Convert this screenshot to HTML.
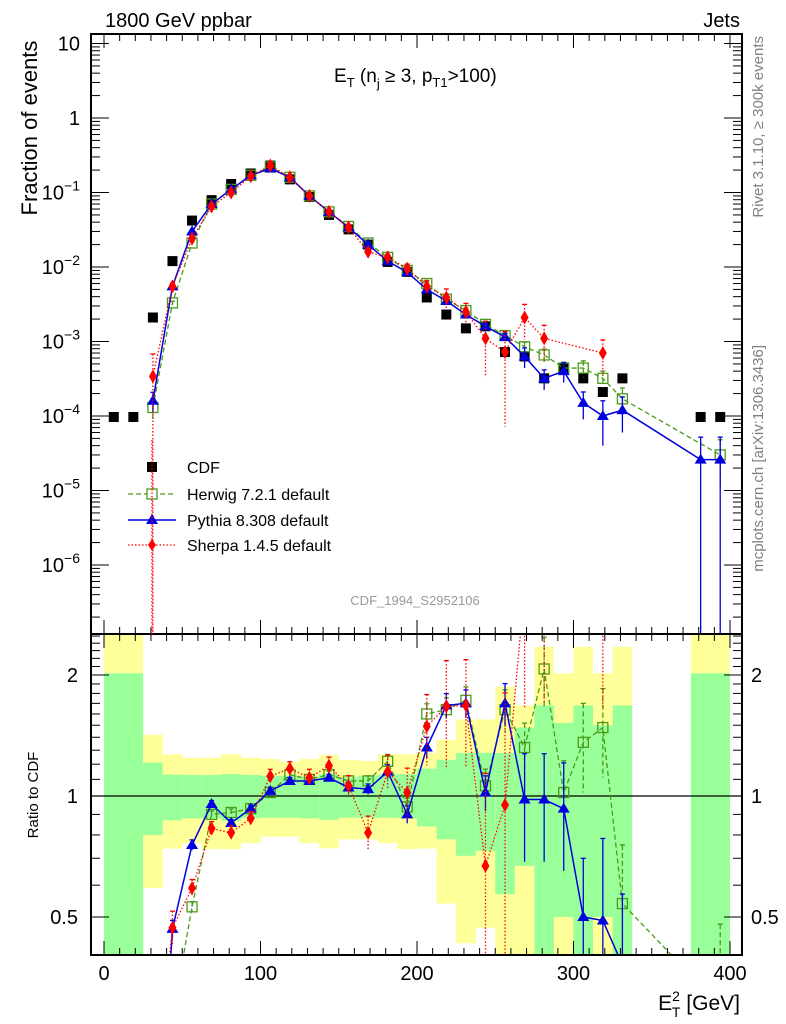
<!DOCTYPE html>
<html><head><meta charset="utf-8">
<style>
html,body{margin:0;padding:0;background:#fff;overflow:hidden;width:786px;height:1024px;}
svg{display:block;font-family:"Liberation Sans",Arial,sans-serif;}
</style></head>
<body>
<svg id="chart" width="786" height="1024" viewBox="0 0 786 1024" xmlns="http://www.w3.org/2000/svg">
<defs>
<clipPath id="mainClip"><rect x="91" y="34" width="651" height="600"/></clipPath>
<clipPath id="ratioClip"><rect x="91" y="634" width="651" height="321"/></clipPath>
</defs>
<g id="ratioBands" clip-path="url(#ratioClip)"></g>
<g id="mainMarks" clip-path="url(#mainClip)"></g>
<g id="ratioMarks" clip-path="url(#ratioClip)"></g>
<g id="axes"></g>

<text x="105" y="27" font-size="20">1800 GeV ppbar</text>
<text x="740" y="27" font-size="20" text-anchor="end">Jets</text>
<text x="334" y="82" font-size="19">E<tspan font-size="13" dy="5">T</tspan><tspan dy="-5"> (n</tspan><tspan font-size="13" dy="6">j</tspan><tspan dy="-6"> ≥ 3, p</tspan><tspan font-size="13" dy="5">T1</tspan><tspan dy="-5">&gt;100)</tspan></text>
<text transform="translate(37,128) rotate(-90)" font-size="22" text-anchor="middle">Fraction of events</text>
<text transform="translate(38,795) rotate(-90)" font-size="15" text-anchor="middle">Ratio to CDF</text>
<text transform="translate(763,36) rotate(-90)" font-size="15" fill="#808080" text-anchor="end">Rivet 3.1.10, ≥ 300k events</text>
<text transform="translate(763,345) rotate(-90)" font-size="15" fill="#808080" text-anchor="end">mcplots.cern.ch [arXiv:1306.3436]</text>
<text x="415" y="605" font-size="13" fill="#999" text-anchor="middle">CDF_1994_S2952106</text>
<text x="740" y="1010" font-size="21" text-anchor="end">E<tspan font-size="14" dy="-9">2</tspan><tspan font-size="14" dy="16" dx="-8">T</tspan><tspan dy="-7"> [GeV]</tspan></text>

<g id="legend">
<g>
<rect x="147" y="462" width="10" height="10" fill="#000"/>
<text x="187" y="473" font-size="16">CDF</text></g>
<g>
<line x1="128" y1="494" x2="176" y2="494" stroke="#4a9a1a" stroke-width="1.3" stroke-dasharray="5,3"/>
<rect x="147" y="489" width="10" height="10" fill="#fff" stroke="#4a9a1a" stroke-width="1.3"/>
<text x="187" y="500" font-size="16">Herwig 7.2.1 default</text></g>
<g>
<line x1="128" y1="520" x2="176" y2="520" stroke="#0000e0" stroke-width="1.5"/>
<polygon points="152,514 158,524 146,524" fill="#0000e0"/>
<text x="187" y="526" font-size="16">Pythia 8.308 default</text></g>
<g>
<line x1="128" y1="545" x2="176" y2="545" stroke="#ff0000" stroke-width="1.3" stroke-dasharray="1.5,2"/>
<line x1="152" y1="440" x2="152" y2="634" stroke="#ff0000" stroke-width="1.3" stroke-dasharray="1.5,2"/>
<polygon points="152,539 156,545 152,551 148,545" fill="#ff0000"/>
<text x="187" y="551" font-size="16">Sherpa 1.4.5 default</text></g>
</g>
</svg>
<script>
// ---- data (bin centres in GeV, width 12.5) ----
const binCenters = [6.25,18.75,31.25,43.75,56.25,68.75,81.25,93.75,106.25,118.75,131.25,143.75,156.25,168.75,181.25,193.75,206.25,218.75,231.25,243.75,256.25,268.75,281.25,293.75,306.25,318.75,331.25,343.75,356.25,368.75,381.25,393.75];
const cdfValues = [9.7e-5,9.7e-5,2.1e-3,1.2e-2,4.2e-2,0.079,0.13,0.18,0.23,0.15,0.087,0.05,0.032,0.02,0.0117,0.0086,0.0039,2.3e-3,1.5e-3,1.6e-3,7.2e-4,6.3e-4,3.2e-4,4.4e-4,3.2e-4,2.1e-4,3.2e-4,null,null,null,9.7e-5,9.7e-5];
const herwigValues = [null,null,1.3e-4,3.3e-3,2.1e-2,0.07,0.11,0.17,0.22,0.16,0.09,0.055,0.035,0.021,0.0135,0.009,0.006,3.7e-3,2.6e-3,1.7e-3,1.2e-3,8.5e-4,6.6e-4,4.4e-4,4.4e-4,3.2e-4,1.7e-4,null,null,null,null,3e-5];
const herwigErr = [0,0,0.3,0.05,0.03,0.02,0.02,0.02,0.02,0.02,0.02,0.02,0.03,0.03,0.04,0.05,0.06,0.07,0.08,0.1,0.12,0.15,0.2,0.2,0.25,0.25,0.4,0,0,0,0,0.6];
const pythiaValues = [null,null,1.6e-4,5.5e-3,0.03,0.07,0.11,0.17,0.21,0.16,0.09,0.055,0.034,0.02,0.012,0.0085,0.005,3.5e-3,2.3e-3,1.6e-3,1.15e-3,6.3e-4,3.2e-4,4e-4,1.5e-4,1e-4,1.2e-4,null,null,null,2.6e-5,2.6e-5];
const pythiaErr = [0,0,0.3,0.05,0.03,0.02,0.02,0.02,0.02,0.02,0.02,0.02,0.03,0.03,0.04,0.05,0.06,0.07,0.08,0.1,0.12,0.3,0.3,0.3,0.4,0.6,0.5,0,0,0,1,1];
const sherpaValues = [null,null,3.4e-4,5.5e-3,0.024,0.065,0.1,0.165,0.23,0.16,0.09,0.055,0.034,0.016,0.0135,0.0095,0.0055,3.9e-3,2.5e-3,1.1e-3,7.2e-4,2.1e-3,1.1e-3,null,null,7e-4,null,null,null,null,null,null];
const sherpaErr = [0,0,1,0.1,0.05,0.04,0.04,0.04,0.04,0.04,0.05,0.05,0.06,0.1,0.1,0.15,0.2,0.3,0.3,0.7,0.9,0.5,0.5,0,0,0.5,0,0,0,0,0,0];
// ratios to CDF
const herwigRatio = [null,null,0.06,0.28,0.53,0.9,0.91,0.93,1.02,1.13,1.1,1.13,1.09,1.09,1.22,0.94,1.6,1.64,1.73,1.06,1.64,1.32,2.07,1.02,1.36,1.48,0.54,null,null,null,null,0.3];
const pythiaRatio = [null,null,0.08,0.467,0.755,0.955,0.857,0.93,1.03,1.09,1.09,1.11,1.05,1.04,1.15,0.9,1.32,1.68,1.7,1.02,1.7,0.98,0.98,0.93,0.5,0.49,0.38,null,null,null,0.27,0.27];
const pythiaRatioErr = [0,0,0.3,0.05,0.03,0.02,0.02,0.02,0.02,0.02,0.02,0.02,0.03,0.03,0.04,0.05,0.06,0.07,0.08,0.1,0.12,0.3,0.3,0.3,0.4,0.6,0.5,0,0,0,0,0];
const sherpaRatio = [null,null,0.16,0.47,0.59,0.83,0.81,0.88,1.12,1.17,1.11,1.19,1.06,0.81,1.15,1.02,1.49,1.67,1.68,0.67,0.95,3.3,3.4,null,null,3.3,null,null,null,null,null,null];
// CDF uncertainty bands (ratio): green inner, yellow outer
const greenLo = [0.01,0.01,0.8,0.87,0.88,0.88,0.868,0.88,0.883,0.883,0.88,0.872,0.883,0.883,0.883,0.88,0.84,0.78,0.71,0.73,0.57,0.67,0.01,0.5,0.01,0.5,0.01,null,null,null,0.01,0.01];
const greenHi = [2.02,2.02,1.21,1.13,1.128,1.128,1.134,1.128,1.123,1.123,1.117,1.132,1.113,1.123,1.132,1.134,1.17,1.23,1.28,1.28,1.28,1.48,1.68,1.52,1.68,1.5,1.68,null,null,null,2.02,2.02];
const yellowLo = [0.01,0.01,0.59,0.74,0.763,0.738,0.738,0.763,0.792,0.792,0.763,0.741,0.78,0.78,0.763,0.738,0.74,0.54,0.43,0.47,0.01,0.01,0.01,0.01,0.01,0.01,0.01,null,null,null,0.01,0.01];
const yellowHi = [10,10,1.42,1.27,1.245,1.245,1.27,1.245,1.236,1.217,1.236,1.265,1.229,1.222,1.27,1.27,1.28,1.38,1.55,1.55,1.87,1.68,2.35,2.02,2.35,2.02,2.35,null,null,null,10,10];
const xTicks = [0,100,200,300,400];
const yDecades = [1,0,-1,-2,-3,-4,-5,-6];
const ratioTicks = [2,1,0.5];

// ---- axes functions ----
const X = v => 104 + v*1.565;
const Y = v => 118 - 74.5*Math.log10(v);
const R = v => 796 - 121*Math.log2(v);
const NS = 'http://www.w3.org/2000/svg';
function mk(tag, attrs, parent){const e=document.createElementNS(NS,tag);for(const k in attrs)e.setAttribute(k,attrs[k]);parent.appendChild(e);return e;}
const gB=document.getElementById('ratioBands'), gM=document.getElementById('mainMarks'), gR=document.getElementById('ratioMarks'), gA=document.getElementById('axes');

// bands
binCenters.forEach((c,i)=>{
  if(yellowHi[i]==null) return;
  const x0=X(c-6.25), w=X(c+6.25)-x0;
  let r=mk('rect',{x:x0,y:R(yellowHi[i]),width:w,height:Math.min(R(yellowLo[i]),960)-R(yellowHi[i]),fill:'#ffff99'},gB);
  
  
  r=mk('rect',{x:x0,y:R(greenHi[i]),width:w,height:Math.min(R(greenLo[i]),960)-R(greenHi[i]),fill:'#99ff99'},gB);
  
  
});
mk('line',{x1:91,x2:742,y1:R(1),y2:R(1),stroke:'#000','stroke-width':1.2},gR);

function marker(type,x,y,col,g){
  let e;
  if(type==='sq') e=mk('rect',{x:x-5,y:y-5,width:10,height:10,fill:'#000'},g);
  else if(type==='osq') e=mk('rect',{x:x-5,y:y-5,width:10,height:10,fill:'none',stroke:col,'stroke-width':1.3},g);
  else if(type==='tri') e=mk('polygon',{points:`${x},${y-6} ${x+6},${y+4} ${x-6},${y+4}`,fill:col},g);
  else e=mk('polygon',{points:`${x},${y-7} ${x+4},${y} ${x},${y+7} ${x-4},${y}`,fill:col},g);
  return e;
}
function series(vals,errs,fy,col,dash,type,g,name,yMax){
  let d='', started=false;
  vals.forEach((v,i)=>{ if(v==null){return;} const x=X(binCenters[i]),y=fy(v); d+=(started?'L':'M')+x+','+y; started=true;});
  if(col){const p=mk('path',{d:d,fill:'none',stroke:col,'stroke-width':type==='tri'?1.5:1.3,'stroke-dasharray':dash},g);
  
  }
  vals.forEach((v,i)=>{ if(v==null) return; const x=X(binCenters[i]),y=fy(v);
    const e=errs?errs[i]:0;
    if(e>0){const y1=fy(v*(1+e)), y2=e>=1?yMax:Math.min(fy(v*(1-e)),yMax);
      mk('line',{x1:x,x2:x,y1:y1,y2:y2,stroke:col,'stroke-width':1.3,'stroke-dasharray':dash},g);
      mk('line',{x1:x-2.5,x2:x+2.5,y1:y1,y2:y1,stroke:col,'stroke-width':1.3},g);}
    const m=marker(type,x,y,col,g);
    
    
  });
}
series(cdfValues,null,Y,null,'', 'sq',gM,'cdf',640);
series(herwigValues,herwigErr,Y,'#4a9a1a','5,3','osq',gM,'herwig',640);
series(pythiaValues,pythiaErr,Y,'#0000e0','','tri',gM,'pythia',640);
series(sherpaValues,sherpaErr,Y,'#ff0000','1.5,2','dia',gM,'sherpa',640);
series(herwigRatio,herwigErr,R,'#4a9a1a','5,3','osq',gR,'herwig-ratio',960);
series(pythiaRatio,pythiaRatioErr,R,'#0000e0','','tri',gR,'pythia-ratio',960);
series(sherpaRatio,sherpaErr,R,'#ff0000','1.5,2','dia',gR,'sherpa-ratio',960);

// frames
let f=mk('rect',{x:91,y:34,width:651,height:600,fill:'none',stroke:'#000','stroke-width':2},gA);


f=mk('rect',{x:91,y:634,width:651,height:321,fill:'none',stroke:'#000','stroke-width':2},gA);


// x ticks
for(let v=0; v<=400; v+=10){
  const x=X(v), L=(v%100===0)?14:7;
  mk('line',{x1:x,x2:x,y1:34,y2:34+L,stroke:'#000'},gA);
  mk('line',{x1:x,x2:x,y1:634,y2:634-L,stroke:'#000'},gA);
  mk('line',{x1:x,x2:x,y1:634,y2:634+L,stroke:'#000'},gA);
  mk('line',{x1:x,x2:x,y1:955,y2:955-L,stroke:'#000'},gA);
}
xTicks.forEach(v=>{const t=mk('text',{x:X(v),y:980,'font-size':20,'text-anchor':'middle'},gA);t.textContent=v;
  
  });
// y ticks main
for(let d=-7; d<=1; d++){
  for(let m=1;m<10;m++){
    const v=m*Math.pow(10,d), y=Y(v); if(y<34||y>634) continue;
    const L=m===1?18:9;
    mk('line',{x1:91,x2:91+L,y1:y,y2:y,stroke:'#000'},gA);
    mk('line',{x1:742,x2:742-L,y1:y,y2:y,stroke:'#000'},gA);
  }
}
yDecades.forEach(d=>{
  const y=Y(Math.pow(10,d));
  const t=mk('text',{x:80,y:y+7,'font-size':20,'text-anchor':'end'},gA);
  
  
  if(d===1) t.textContent='10';
  else if(d===0) t.textContent='1';
  else {
    t.textContent='10';
    const s=mk('tspan',{dy:-9,'font-size':14},t);
    s.textContent='\u2212'+(-d);
  }
});
// ratio ticks
[0.4,0.5,0.6,0.7,0.8,0.9,1,1.1,1.2,1.3,1.4,1.5,1.6,1.7,1.8,1.9,2,2.1,2.2,2.3,2.4,2.5].forEach(v=>{
  const y=R(v); if(y<634||y>955) return;
  const L=(v===0.5||v===1||v===2)?18:9;
  mk('line',{x1:91,x2:91+L,y1:y,y2:y,stroke:'#000'},gA);
  mk('line',{x1:742,x2:742-L,y1:y,y2:y,stroke:'#000'},gA);
});
ratioTicks.forEach(v=>{
  let t=mk('text',{x:78,y:R(v)+7,'font-size':20,'text-anchor':'end'},gA);t.textContent=v;
  
  
  t=mk('text',{x:751,y:R(v)+7,'font-size':20},gA);t.textContent=v;
  
  
});
</script>
</body></html>
